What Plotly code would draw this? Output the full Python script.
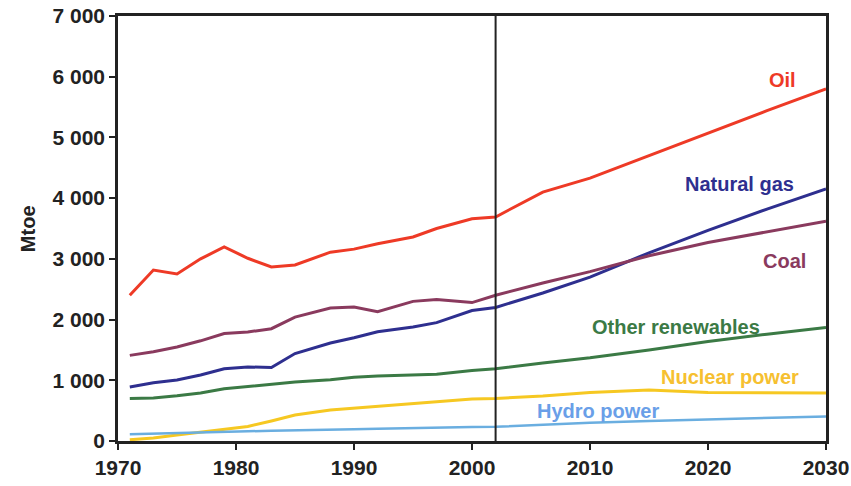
import plotly.graph_objects as go

years = [1971, 1973, 1975, 1977, 1979, 1981, 1983, 1985, 1988, 1990, 1992, 1995, 1997, 2000, 2002,
         2006, 2010, 2015, 2020, 2025, 2030]
oil = [2400, 2816, 2750, 3000, 3195, 3010, 2866, 2900, 3110, 3160, 3250, 3360, 3500, 3660, 3690,
       4100, 4330, 4700, 5080, 5440, 5800]
gas = [890, 960, 1005, 1087, 1190, 1220, 1210, 1440, 1614, 1700, 1800, 1878, 1950, 2150, 2200,
       2437, 2700, 3100, 3470, 3820, 4150]
coal = [1410, 1470, 1548, 1650, 1770, 1795, 1850, 2040, 2190, 2207, 2130, 2300, 2330, 2280, 2400,
        2602, 2790, 3050, 3270, 3450, 3620]
other_ren = [700, 710, 745, 790, 860, 900, 930, 972, 1010, 1050, 1070, 1087, 1100, 1160, 1190,
             1285, 1370, 1500, 1640, 1760, 1870]
nuclear = [20, 50, 100, 150, 190, 240, 330, 428, 510, 540, 580, 620, 650, 690, 700,
           740, 800, 840, 800, 790, 790]
hydro = [110, 118, 125, 135, 150, 160, 170, 180, 185, 195, 200, 215, 225, 230, 235,
         270, 300, 330, 355, 380, 405]

base_year = 2002
y_tickvals = [0, 1000, 2000, 3000, 4000, 5000, 6000, 7000]
y_ticktext = ["0", "1 000", "2 000", "3 000", "4 000", "5 000", "6 000", "7 000"]
x_tickvals = [1970, 1980, 1990, 2000, 2010, 2020, 2030]

series = [
    ("Oil", oil, "#EE3A26", 3),
    ("Natural gas", gas, "#2E2F8F", 3),
    ("Coal", coal, "#8A3A5E", 3),
    ("Other renewables", other_ren, "#3B7A45", 3),
    ("Nuclear power", nuclear, "#F6C822", 3),
    ("Hydro power", hydro, "#6AAEE0", 2.5),
]

labels = [
    ("Oil", 2026.3, 5940, "#EE3A26"),
    ("Natural gas", 2022.7, 4235, "#2E2F8F"),
    ("Coal", 2026.5, 2965, "#8A3A5E"),
    ("Other renewables", 2017.3, 1878, "#3B7A45"),
    ("Nuclear power", 2021.9, 1054, "#F6C030"),
    ("Hydro power", 2010.7, 494, "#6A9FE8"),
]

fig = go.Figure()
for name, vals, color, w in series:
    fig.add_trace(go.Scatter(x=years, y=vals, mode="lines", name=name,
                             line=dict(color=color, width=w)))

for text, x, y, color in labels:
    fig.add_annotation(x=x, y=y, text=text, showarrow=False,
                       font=dict(family="Liberation Sans", size=20, color=color, weight="bold"))

fig.add_annotation(xref="paper", yref="paper", x=-0.146, y=0.5, text="Mtoe", textangle=-90,
                   showarrow=False,
                   font=dict(family="Liberation Sans", size=20, color="#222222", weight="bold"))

fig.add_shape(type="line", x0=base_year, x1=base_year, y0=0, y1=7000,
              line=dict(color="#222222", width=2))

fig.update_layout(
    width=851, height=486,
    margin=dict(l=118, r=25, t=16, b=45),
    paper_bgcolor="white", plot_bgcolor="white",
    showlegend=False,
    font=dict(family="Liberation Sans", color="#222222"),
)
fig.update_xaxes(range=[1970, 2030], tickvals=x_tickvals, showgrid=False, zeroline=False,
                 showline=True, linecolor="#222222", linewidth=2.5, mirror=True,
                 ticks="outside", ticklen=6, tickwidth=2, tickcolor="#222222", automargin=False,
                 ticklabeloverflow="allow",
                 tickfont=dict(size=21, weight="bold", color="#222222"))
fig.update_yaxes(range=[0, 7000], tickvals=y_tickvals, ticktext=y_ticktext, showgrid=False,
                 zeroline=False, showline=True, linecolor="#222222", linewidth=2.5, mirror=True,
                 ticks="outside", ticklen=6, tickwidth=2, tickcolor="#222222", automargin=False,
                 ticklabeloverflow="allow",
                 tickfont=dict(size=21, weight="bold", color="#222222"))

fig.write_html("out.html", config={"displayModeBar": False},
               post_script="document.body.style.margin='0';document.body.style.overflow='hidden';")
